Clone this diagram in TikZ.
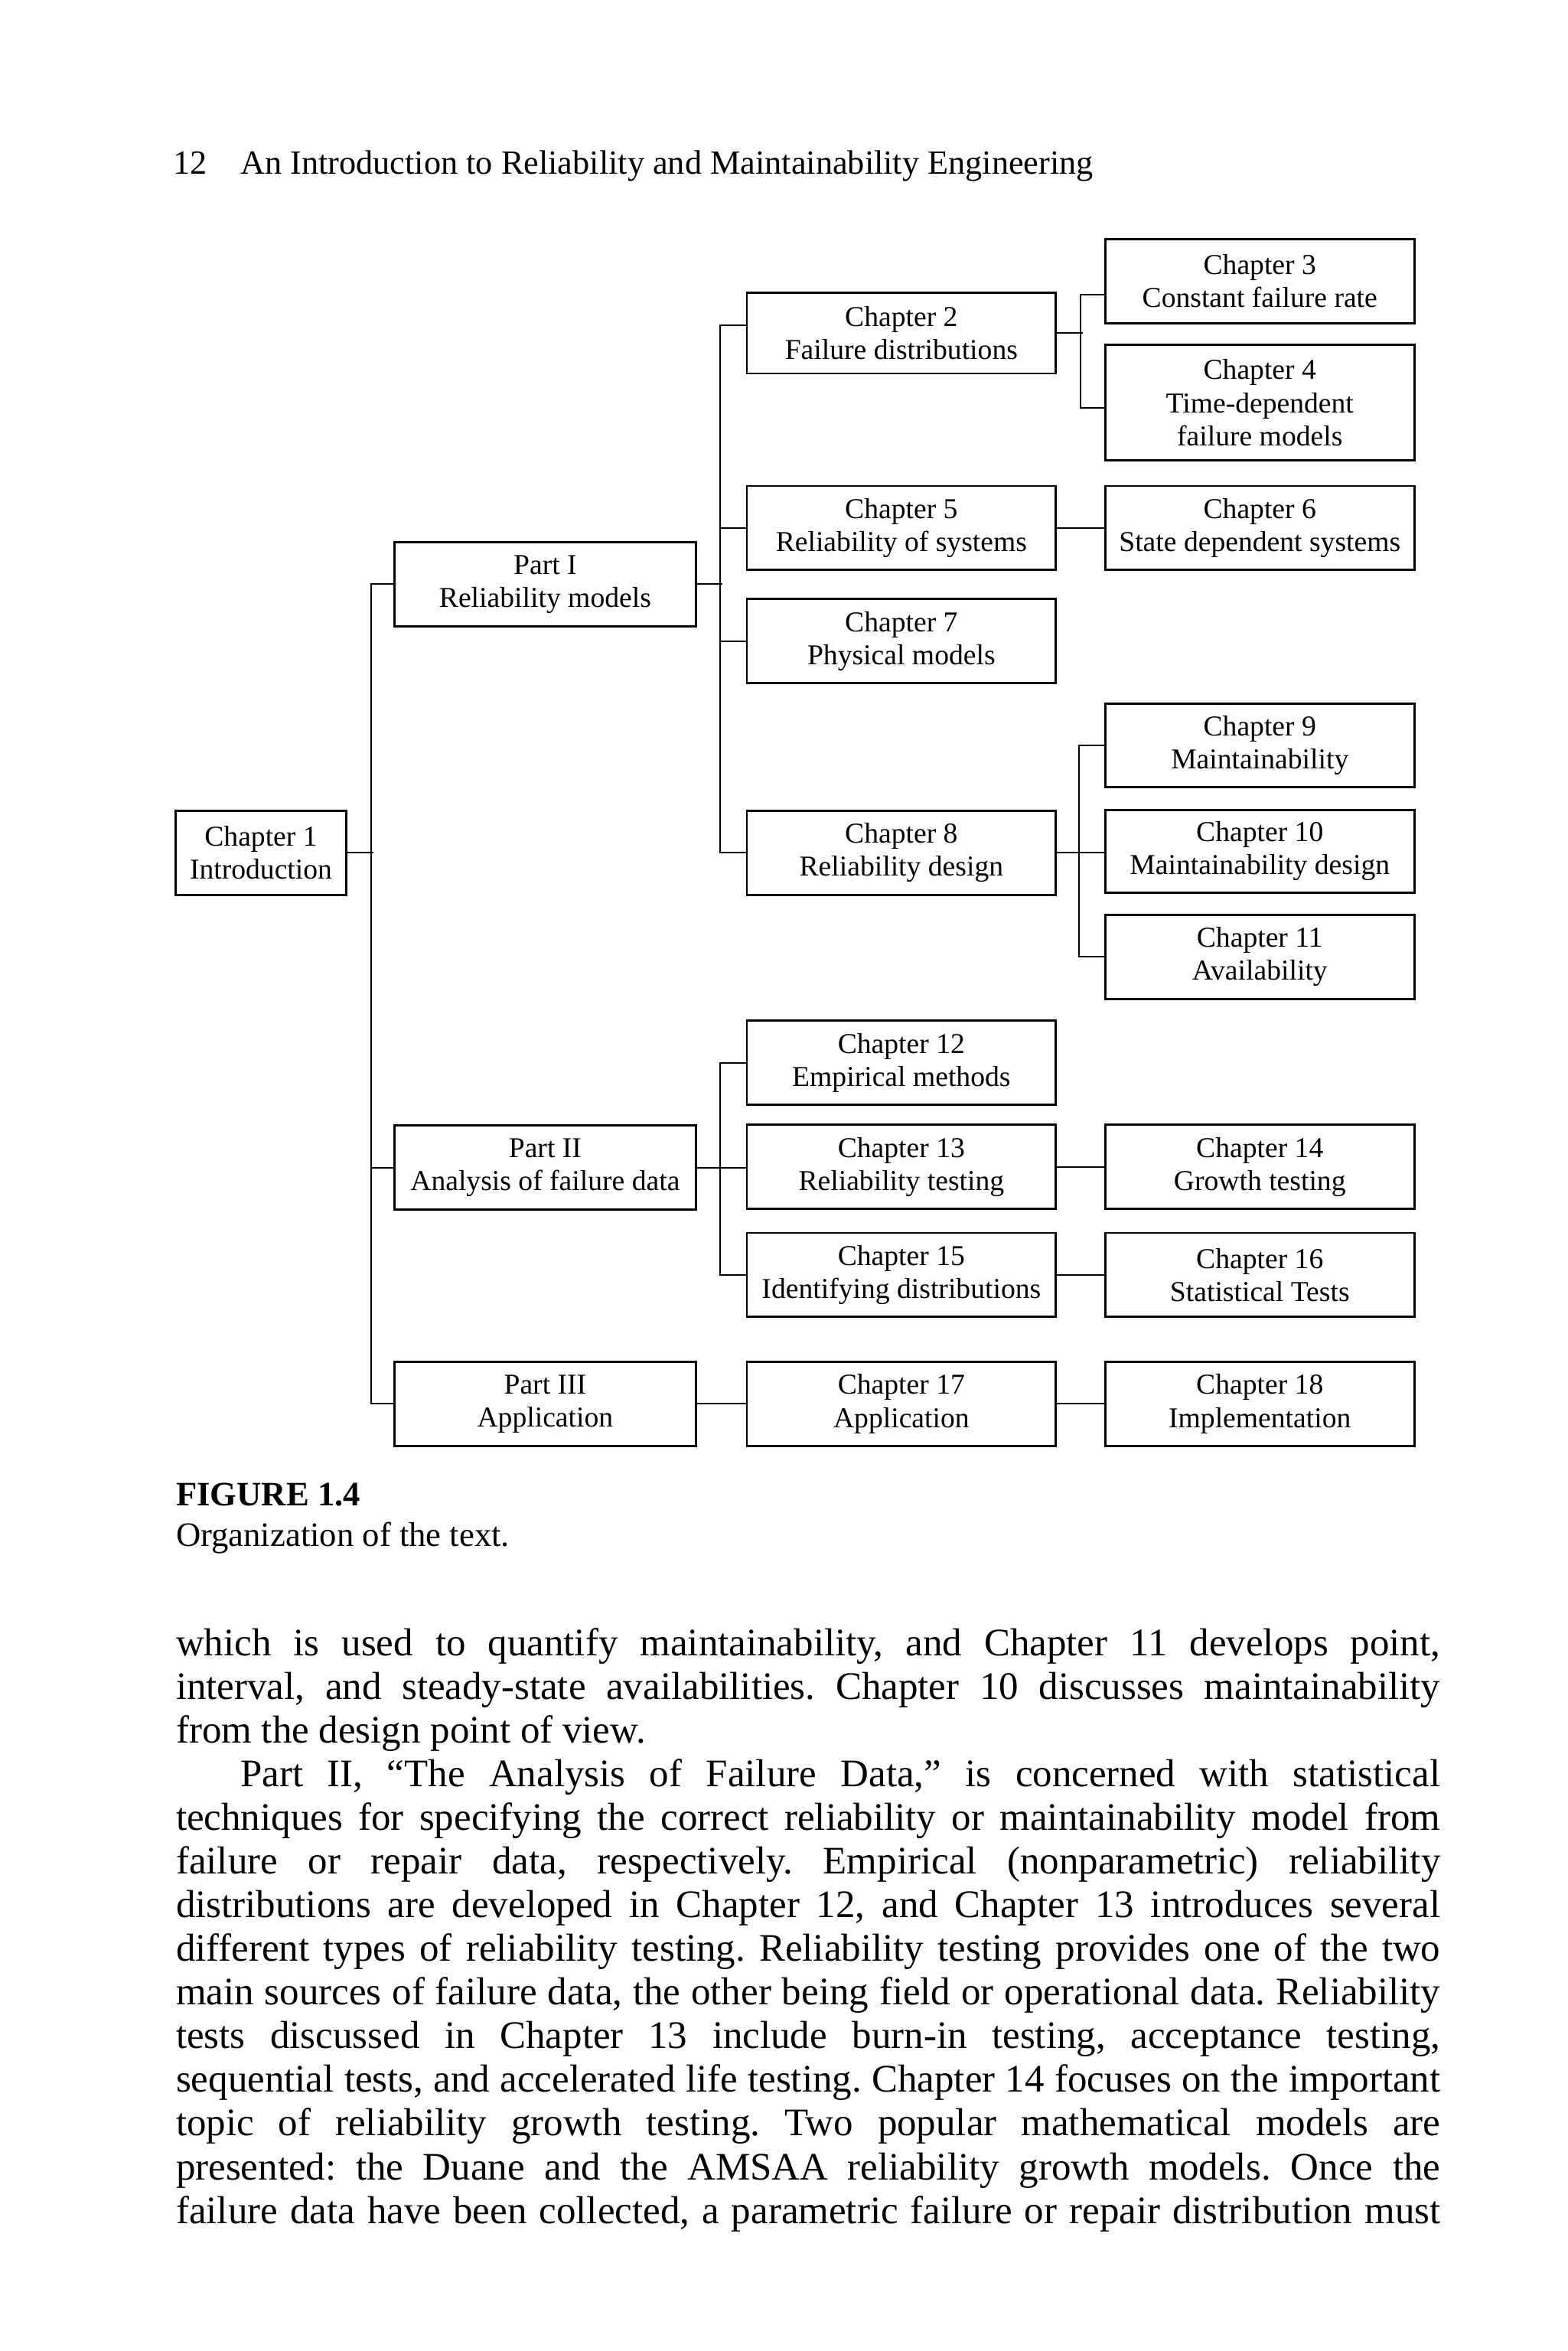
\documentclass[tikz,border=0pt]{standalone}
\usepackage{fontspec}
\setmainfont{Liberation Serif}
\usetikzlibrary{calc}
\newlength\bodyw
\setlength\bodyw{421.5pt}
\frenchspacing
\begin{document}
\frenchspacing
\begin{tikzpicture}[x=0.5pt,y=-0.5pt,
  box/.style={draw,line width=0.75pt,inner sep=0pt,align=center,
    font=\fontsize{9.6}{11}\selectfont,minimum height=28pt},
  colA/.style={box,minimum width=100.5pt},
  colB/.style={box,minimum width=103pt},
  colC/.style={box,minimum width=103pt},
  conn/.style={line width=0.5pt},
  body/.style={anchor=base west,inner sep=0pt,font=\fontsize{13}{15}\selectfont\frenchspacing},
  head/.style={anchor=base west,inner sep=0pt,font=\fontsize{11.3}{13}\selectfont}]
\fill[white] (0,0) rectangle (1045,1567.5);
\useasboundingbox (0,0) rectangle (1045,1567.5);

% header
\node[head] (pageno) at (115,116) {12};
\node[head] (title) at (160,116) {An Introduction to Reliability and Maintainability Engineering};

% boxes
\node[box,minimum width=57pt] (ch1) at (174,568.5) {Chapter 1\\Introduction};
\node[colA] (p1) at (363.5,389.5) {Part I\\Reliability models};
\node[colA] (p2) at (363.5,778.5) {Part II\\Analysis of failure data};
\node[colA] (p3) at (363.5,936) {Part III\\Application};

\node[colB,minimum height=27pt] (ch2) at (601,222) {Chapter 2\\Failure distributions};
\node[colB] (ch5) at (601,352) {Chapter 5\\Reliability of systems};
\node[colB] (ch7) at (601,427.5) {Chapter 7\\Physical models};
\node[colB] (ch8) at (601,568.5) {Chapter 8\\Reliability design};
\node[colB] (ch12) at (601,708.5) {Chapter 12\\Empirical methods};
\node[colB] (ch13) at (601,778) {Chapter 13\\Reliability testing};
\node[colB] (ch15) at (601,850) {Chapter 15\\Identifying distributions};
\node[colB] (ch17) at (601,936) {Chapter 17\\Application};

\node[colC] (ch3) at (840,187.5) {Chapter 3\\Constant failure rate};
\node[colC,minimum height=38.5pt] (ch4) at (840,268.5) {Chapter 4\\Time-dependent\\failure models};
\node[colC] (ch6) at (840,352) {Chapter 6\\State dependent systems};
\node[colC] (ch9) at (840,497) {Chapter 9\\Maintainability};
\node[colC,minimum height=27.5pt] (ch10) at (840,567.5) {Chapter 10\\Maintainability design};
\node[colC] (ch11) at (840,638) {Chapter 11\\Availability};
\node[colC] (ch14) at (840,778) {Chapter 14\\Growth testing};
\node[colC] (ch16) at (840,850) {Chapter 16\\Statistical Tests};
\node[colC] (ch18) at (840,936) {Chapter 18\\Implementation};

% connectors: main spine
\draw[conn] (p1.west) -- ++(-15,0) |- (p3.west);
\draw[conn] (p2.west) -- ++(-15,0);
\draw[conn] (ch1.east) -- ++(17,0);

% Part I group
\draw[conn] ([yshift=2.5pt]ch2.west) -- ++(-17,0) |- (ch8.west);
\draw[conn] (p1.east) -- ++(17,0);
\draw[conn] (ch5.west) -- ++(-17,0);
\draw[conn] (ch7.west) -- ++(-17,0);
\draw[conn] (ch2.east) -- ++(17,0);
\draw[conn] ([yshift=-4.5pt]ch3.west) -- ++(-16,0) |- ([yshift=-1.75pt]ch4.west);
\draw[conn] (ch5.east) -- (ch6.west);
\draw[conn] (ch9.west) -- ++(-17,0) |- (ch11.west);
\draw[conn] (ch8.east) -- (ch8.east -| ch10.west);

% Part II group
\draw[conn] (ch12.west) -- ++(-17,0) |- (ch15.west);
\draw[conn] (p2.east) -- (p2.east -| ch13.west);
\draw[conn] (ch13.east) -- (ch14.west);
\draw[conn] (ch15.east) -- (ch16.west);

% Part III group
\draw[conn] (p3.east) -- (ch17.west);
\draw[conn] (ch17.east) -- (ch18.west);

% caption
\node[head,font=\fontsize{11.4}{13}\selectfont\bfseries] (figlbl) at (117,1004) {FIGURE 1.4};
\node[head,font=\fontsize{11.4}{13}\selectfont] (figcap) at (117,1031) {Organization of the text.};

% body text
\node[body] (l1) at (117,1104) {\hbox to \bodyw{which is used to quantify maintainability, and Chapter 11 develops point,}};
\node[body] (l2) at (117,1133.1) {\hbox to \bodyw{interval, and steady-state availabilities. Chapter 10 discusses maintainability}};
\node[body] (l3) at (117,1162.2) {from the design point of view.};
\node[body] (l4) at (117,1191.3) {\hbox to \bodyw{\hspace*{21.5pt}Part II, “The Analysis of Failure Data,” is concerned with statistical}};
\node[body] (l5) at (117,1220.4) {\hbox to \bodyw{techniques for specifying the correct reliability or maintainability model from}};
\node[body] (l6) at (117,1249.5) {\hbox to \bodyw{failure or repair data, respectively. Empirical (nonparametric) reliability}};
\node[body] (l7) at (117,1278.6) {\hbox to \bodyw{distributions are developed in Chapter 12, and Chapter 13 introduces several}};
\node[body] (l8) at (117,1307.7) {\hbox to \bodyw{different types of reliability testing. Reliability testing provides one of the two}};
\node[body] (l9) at (117,1336.8) {\hbox to \bodyw{main sources of failure data, the other being field or operational data. Reliability}};
\node[body] (l10) at (117,1365.9) {\hbox to \bodyw{tests discussed in Chapter 13 include burn-in testing, acceptance testing,}};
\node[body] (l11) at (117,1395) {\hbox to \bodyw{sequential tests, and accelerated life testing. Chapter 14 focuses on the important}};
\node[body] (l12) at (117,1424.1) {\hbox to \bodyw{topic of reliability growth testing. Two popular mathematical models are}};
\node[body] (l13) at (117,1453.2) {\hbox to \bodyw{presented: the Duane and the AMSAA reliability growth models. Once the}};
\node[body] (l14) at (117,1482.3) {\hbox to \bodyw{failure data have been collected, a parametric failure or repair distribution must}};
\end{tikzpicture}
\end{document}
